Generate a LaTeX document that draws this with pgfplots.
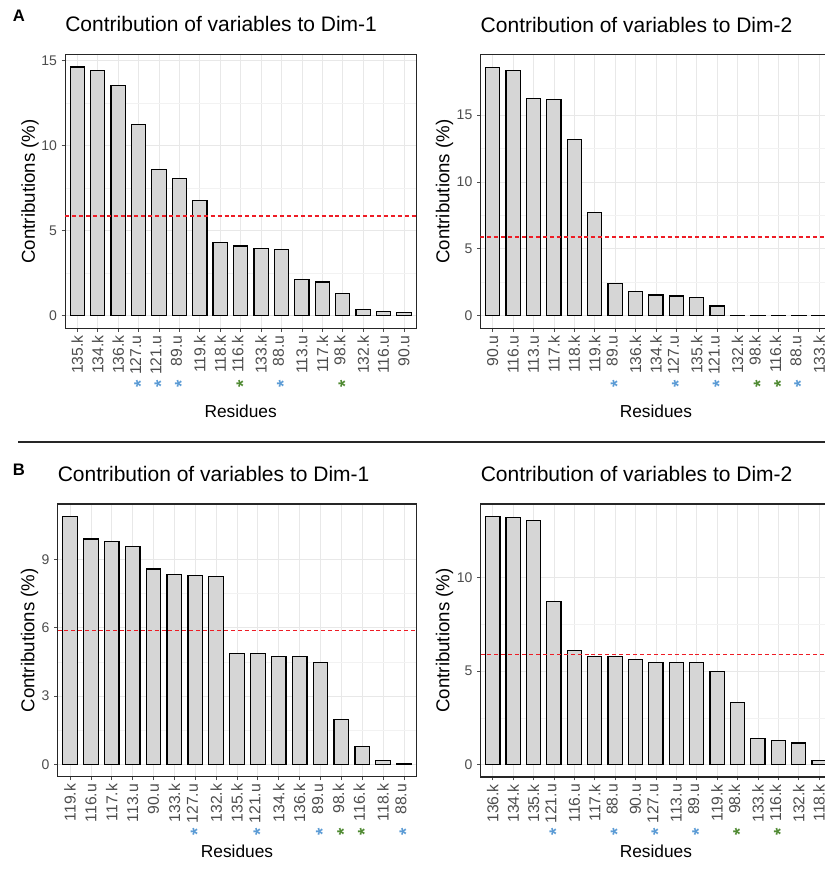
\documentclass[border=0pt]{standalone}
\usepackage{fontspec}
\setmainfont{Liberation Sans}
\usepackage{pgfplots}
\pgfplotsset{compat=1.18}
\definecolor{astblue}{HTML}{5B9BD5}
\definecolor{astgreen}{HTML}{4F8A32}
\definecolor{tickgray}{HTML}{4D4D4D}
\definecolor{barfill}{HTML}{D6D6D6}
\definecolor{refred}{HTML}{EE1C25}
\newcommand{\mystar}[1]{\textcolor{#1}{\fontsize{14}{14}\bfseries\raisebox{-0.32em}{*}}}
\newcommand{\tn}[1]{\makebox[38.7pt][r]{#1}}
\newcommand{\tb}[1]{\makebox[38.7pt][l]{\mystar{astblue}\hfill #1}}
\newcommand{\tg}[1]{\makebox[38.7pt][l]{\mystar{astgreen}\hfill #1}}
\pgfplotsset{
  contrib/.style={
    scale only axis,
    xmin=0.4, xmax=17.6,
    xtick={1,...,17},
    xtick pos=bottom, ytick pos=left,
    axis line style={black!85, line width=0.8pt},
    tick style={black!70, line width=0.6pt},
    tick align=outside,
    major tick length=2.6pt,
    minor tick length=0pt,
    xmajorgrids, ymajorgrids, yminorgrids,
    major grid style={black!9, line width=0.6pt},
    minor grid style={black!5, line width=0.4pt},
    minor y tick num=1,
    xticklabel style={font=\fontsize{11.8}{12}\selectfont, color=tickgray, rotate=90, anchor=east, inner xsep=2.6pt, inner ysep=0pt},
    yticklabel style={font=\fontsize{10.5}{12}\selectfont, color=tickgray},
    /pgf/number format/assume math mode=true,
    title style={font=\fontsize{15.75}{18}\selectfont, anchor=base west, at={([yshift=10.9pt]axis description cs:0,1)}, inner sep=0pt},
    ylabel={Contributions (\%)},
    xlabel={Residues},
  },
  bars/.style={ybar, bar width=0.7, fill=barfill, draw=black, line width=0.9pt},
  refl/.style={refred, dash pattern=on 3pt off 2.2pt, line width=1.1pt},
}
\begin{document}
\begin{tikzpicture}
\useasboundingbox (0,0) rectangle (618.75pt,654pt);
\clip (0,0) rectangle (618.75pt,654pt);
\fill[white] (0,0) rectangle (618.75pt,654pt);

% ---------- A left
\begin{axis}[contrib,
  at={(48.79pt,407.78pt)}, anchor=south west,
  width=263.4pt, height=205.35pt,
  ymin=-0.73, ymax=15.36, ytick={0,5,10,15},
  title={Contribution of variables to Dim-1},
  ylabel style={font=\fontsize{14}{16}\selectfont, at={([xshift=-26.25pt]axis description cs:0,0.5)}, anchor=center},
  xlabel style={font=\fontsize{13}{15}\selectfont, at={([yshift=-62pt]axis description cs:0.5,0)}, anchor=center},
  xticklabels={\tn{135.k},\tn{134.k},\tn{136.k},\tb{127.u},\tb{121.u},\tb{89.u},\tn{119.k},\tn{118.k},\tg{116.k},\tn{133.k},\tb{88.u},\tn{113.u},\tn{117.k},\tg{98.k},\tn{132.k},\tn{116.u},\tn{90.u}},
]
\addplot[bars] coordinates {(1,14.63)(2,14.43)(3,13.54)(4,11.26)(5,8.58)(6,8.07)(7,6.79)(8,4.31)(9,4.11)(10,3.96)(11,3.90)(12,2.13)(13,1.99)(14,1.32)(15,0.37)(16,0.24)(17,0.18)};
\addplot[refl] coordinates {(0.4,5.88)(17.6,5.88)};
\end{axis}

% ---------- A right
\begin{axis}[contrib,
  at={(360.35pt,407.78pt)}, anchor=south west,
  width=263.2pt, height=205pt,
  ymin=-0.93, ymax=19.48, ytick={0,5,10,15},
  title={Contribution of variables to Dim-2},
  ylabel style={font=\fontsize{14}{16}\selectfont, at={([xshift=-27pt]axis description cs:0,0.5)}, anchor=center},
  xlabel style={font=\fontsize{13}{15}\selectfont, at={([yshift=-62pt]axis description cs:0.5,0)}, anchor=center},
  xticklabels={\tn{90.u},\tn{116.u},\tn{113.u},\tn{117.k},\tn{118.k},\tn{119.k},\tb{89.u},\tn{136.k},\tn{134.k},\tb{127.u},\tn{135.k},\tb{121.u},\tn{132.k},\tg{98.k},\tg{116.k},\tb{88.u},\tn{133.k}},
]
\addplot[bars] coordinates {(1,18.55)(2,18.3)(3,16.25)(4,16.18)(5,13.18)(6,7.73)(7,2.43)(8,1.8)(9,1.55)(10,1.48)(11,1.35)(12,0.73)(13,0.02)(14,0.02)(15,0.02)(16,0.02)(17,0.02)};
\addplot[refl] coordinates {(0.4,5.88)(17.6,5.88)};
\end{axis}

% ---------- B left
\begin{axis}[contrib,
  at={(43.13pt,71.48pt)}, anchor=south west,
  width=269.25pt, height=204.5pt,
  ymin=-0.545, ymax=11.43, ytick={0,3,6,9},
  title={Contribution of variables to Dim-1},
  ylabel style={font=\fontsize{14}{16}\selectfont, at={([xshift=-21pt]axis description cs:0,0.5)}, anchor=center},
  xlabel style={font=\fontsize{13}{15}\selectfont, at={([yshift=-56pt]axis description cs:0.5,0)}, anchor=center},
  xticklabels={\tn{119.k},\tn{116.u},\tn{117.k},\tn{113.u},\tn{90.u},\tn{133.k},\tb{127.u},\tn{132.k},\tn{135.k},\tb{121.u},\tn{134.k},\tn{136.k},\tb{89.u},\tg{98.k},\tg{116.k},\tn{118.k},\tb{88.u}},
]
\addplot[bars] coordinates {(1,10.89)(2,9.89)(3,9.77)(4,9.55)(5,8.58)(6,8.35)(7,8.29)(8,8.23)(9,4.88)(10,4.88)(11,4.74)(12,4.74)(13,4.46)(14,1.97)(15,0.77)(16,0.15)(17,0.04)};
\addplot[refl] coordinates {(0.4,5.88)(17.6,5.88)};
\end{axis}

% ---------- B right
\begin{axis}[contrib,
  at={(360.4pt,71.25pt)}, anchor=south west,
  width=263.1pt, height=204.75pt,
  ymin=-0.66, ymax=13.91, ytick={0,5,10},
  title={Contribution of variables to Dim-2},
  ylabel style={font=\fontsize{14}{16}\selectfont, at={([xshift=-27pt]axis description cs:0,0.5)}, anchor=center},
  xlabel style={font=\fontsize{13}{15}\selectfont, at={([yshift=-56pt]axis description cs:0.5,0)}, anchor=center},
  xticklabels={\tn{136.k},\tn{134.k},\tn{135.k},\tb{121.u},\tn{116.u},\tn{117.k},\tb{88.u},\tn{90.u},\tb{127.u},\tn{113.u},\tb{89.u},\tn{119.k},\tg{98.k},\tn{133.k},\tg{116.k},\tn{132.k},\tn{118.k}},
]
\addplot[bars] coordinates {(1,13.25)(2,13.2)(3,13.02)(4,8.69)(5,6.07)(6,5.78)(7,5.78)(8,5.6)(9,5.44)(10,5.44)(11,5.44)(12,4.99)(13,3.30)(14,1.38)(15,1.29)(16,1.15)(17,0.23)};
\addplot[refl] coordinates {(0.4,5.88)(17.6,5.88)};
\end{axis}

\node[font=\bfseries\fontsize{12.5}{14}\selectfont] at (14.25pt,642pt) {A};
\node[font=\bfseries\fontsize{12.5}{14}\selectfont] at (14.25pt,301.5pt) {B};
\draw[line width=1.5pt, black!85] (13.5pt,322.7pt) -- (618.75pt,322.7pt);
\end{tikzpicture}
\end{document}
